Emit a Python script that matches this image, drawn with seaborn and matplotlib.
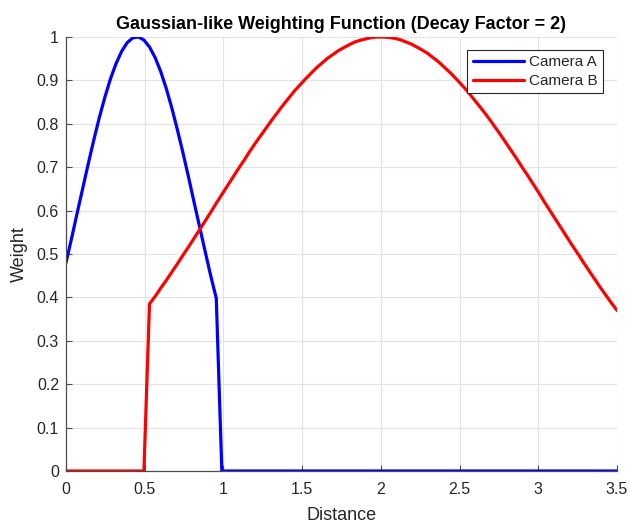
import numpy as np
import pandas as pd
import matplotlib
matplotlib.use("Agg")
import matplotlib.pyplot as plt
import seaborn as sns

# Sample grid: 100 distances from 0 to 3.5
distance = np.linspace(0, 3.5, 100)

# Camera A weights (nonzero for the first 28 samples)
camera_a = [0.480, 0.536, 0.594, 0.651, 0.708, 0.763, 0.815, 0.862, 0.904, 0.939,
            0.967, 0.987, 0.998, 1.000, 0.993, 0.977, 0.953, 0.921, 0.882, 0.837,
            0.787, 0.734, 0.678, 0.620, 0.563, 0.506, 0.450, 0.398] + [0.0] * 72

# Camera B weights (zero for the first 15 samples)
camera_b = [0.0] * 15 + [
    0.385, 0.402, 0.421, 0.439, 0.458, 0.477, 0.497, 0.516, 0.536, 0.556,
    0.576, 0.596, 0.617, 0.637, 0.657, 0.677, 0.697, 0.716, 0.736, 0.755,
    0.773, 0.791, 0.809, 0.826, 0.843, 0.859, 0.875, 0.889, 0.903, 0.916,
    0.929, 0.940, 0.951, 0.960, 0.969, 0.976, 0.983, 0.989, 0.993, 0.996,
    0.999, 1.000, 1.000, 0.999, 0.997, 0.994, 0.989, 0.984, 0.977, 0.970,
    0.962, 0.952, 0.942, 0.930, 0.918, 0.905, 0.891, 0.877, 0.861, 0.845,
    0.829, 0.812, 0.794, 0.776, 0.757, 0.738, 0.719, 0.699, 0.680, 0.660,
    0.640, 0.619, 0.599, 0.579, 0.559, 0.539, 0.519, 0.500, 0.480, 0.461,
    0.442, 0.423, 0.405, 0.387, 0.370]

series_names = ["Camera A", "Camera B"]
series_colors = ["#0000ff", "#ff0000"]
x_ticks = [0, 0.5, 1, 1.5, 2, 2.5, 3, 3.5]
x_tick_labels = ["0", "0.5", "1", "1.5", "2", "2.5", "3", "3.5"]
y_ticks = [0, 0.1, 0.2, 0.3, 0.4, 0.5, 0.6, 0.7, 0.8, 0.9, 1]
y_tick_labels = ["0", "0.1", "0.2", "0.3", "0.4", "0.5", "0.6", "0.7", "0.8", "0.9", "1"]

df = pd.concat([
    pd.DataFrame({"Distance": distance, "Weight": camera_a, "Camera": series_names[0]}),
    pd.DataFrame({"Distance": distance, "Weight": camera_b, "Camera": series_names[1]}),
], ignore_index=True)

sns.set_style("white")
plt.rcParams["font.family"] = ["Liberation Sans", "DejaVu Sans"]

fig = plt.figure(figsize=(6.3, 5.24), dpi=100)
ax = fig.add_axes([66 / 630, 1 - 471 / 524, (617 - 66) / 630, (471 - 37) / 524])

sns.lineplot(data=df, x="Distance", y="Weight", hue="Camera",
             palette=dict(zip(series_names, series_colors)),
             linewidth=2.3, ax=ax, legend=True)

ax.set_xlim(0, 3.5)
ax.set_ylim(0, 1)
ax.set_xticks(x_ticks)
ax.set_xticklabels(x_tick_labels)
ax.set_yticks(y_ticks)
ax.set_yticklabels(y_tick_labels)

ax.grid(True, color="#e3e3e3", linewidth=0.8)
ax.set_axisbelow(True)
for side in ["top", "right"]:
    ax.spines[side].set_visible(False)
for side in ["left", "bottom"]:
    ax.spines[side].set_color("#4d4d4d")
    ax.spines[side].set_linewidth(0.9)

ax.tick_params(axis="both", direction="in", length=4, width=0.8,
               color="#4d4d4d", labelsize=11.5, labelcolor="#262626")
ax.tick_params(axis="x", bottom=True, pad=8)
ax.tick_params(axis="y", left=True, pad=5)

ax.set_xlabel("Distance", fontsize=13, color="#262626", labelpad=7)
ax.set_ylabel("Weight", fontsize=13, color="#262626", labelpad=6)
ax.set_title("Gaussian-like Weighting Function (Decay Factor = 2)",
             fontsize=13, fontweight="bold", color="black", pad=6)

leg = ax.legend(loc="upper right", bbox_to_anchor=(0.9746, 0.970), fontsize=11,
                frameon=True, fancybox=False, framealpha=1, borderpad=0.35,
                handlelength=3.4, handletextpad=0.3, labelspacing=0.3,
                borderaxespad=0)
leg.get_frame().set_edgecolor("#262626")
leg.get_frame().set_linewidth(0.8)
for line in leg.get_lines():
    line.set_linewidth(2.3)

fig.savefig("out.png", dpi=100, facecolor="white")
